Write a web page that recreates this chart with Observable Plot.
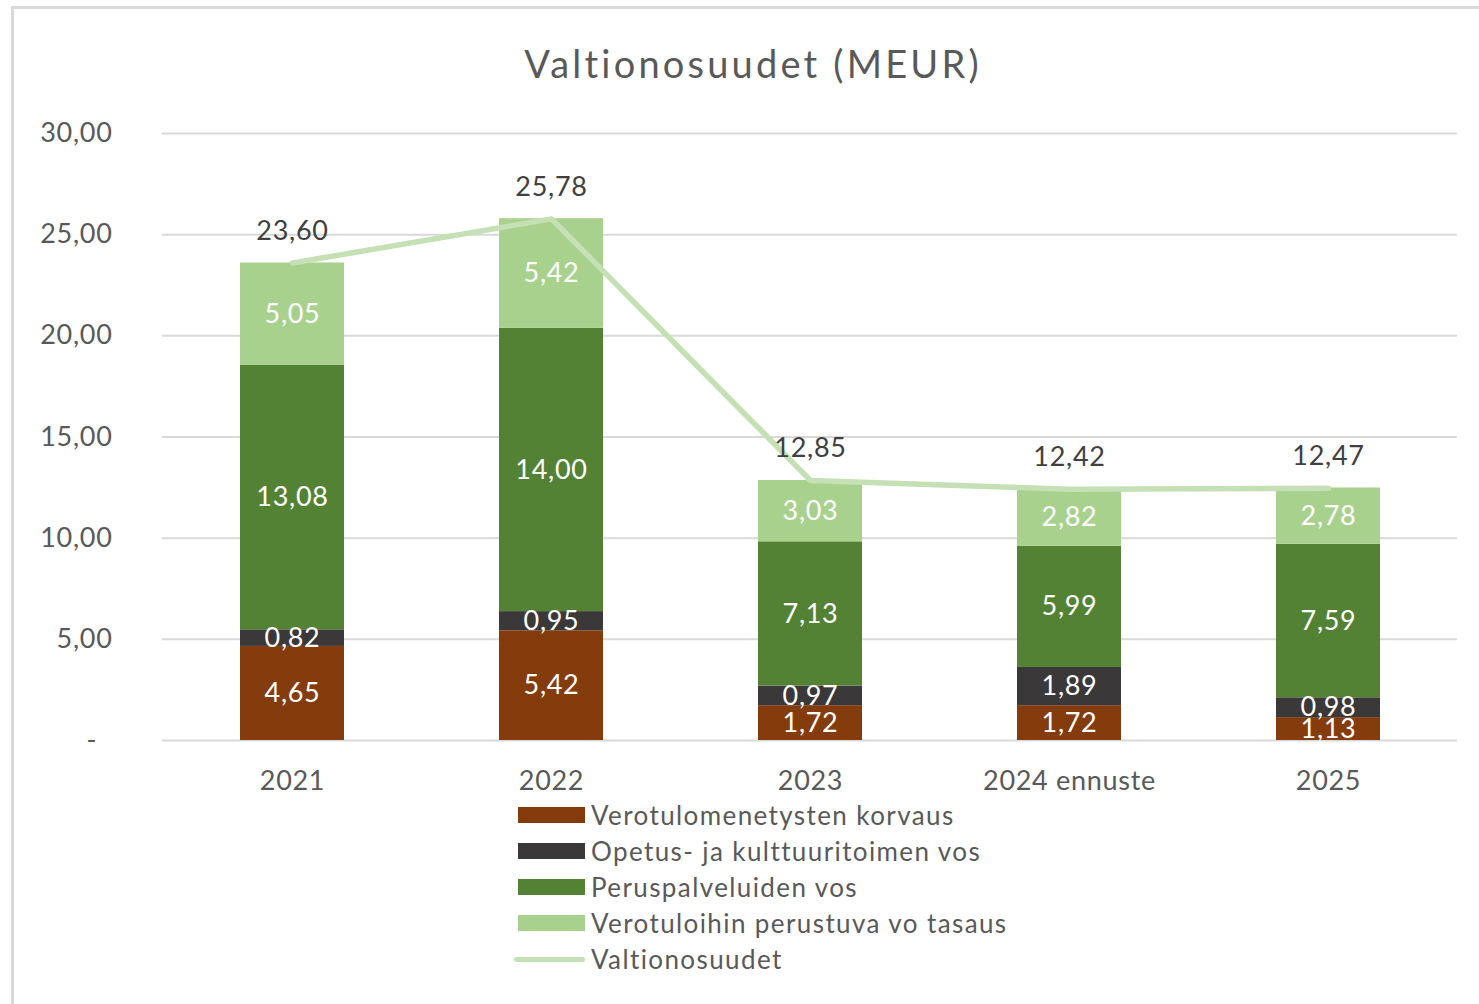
<!DOCTYPE html>
<html>
<head>
<meta charset="utf-8">
<script src="https://cdn.jsdelivr.net/npm/d3@7"></script>
<script src="https://cdn.jsdelivr.net/npm/@observablehq/plot@0.6"></script>
<style>
  html, body { margin: 0; padding: 0; background: #fff; }
  #wrap { position: relative; width: 1479px; height: 1004px; overflow: hidden; font-family: Lato, "Open Sans", sans-serif; }
  #frame { position: absolute; left: 11px; top: 6px; width: 1600px; height: 1200px; border: 3px solid #d9d9d9; box-sizing: border-box; }
  #title { position: absolute; left: 0; width: 1506px; top: 36px; text-align: center; font-size: 38px; letter-spacing: 3.2px; color: #595959; line-height: 54px; }
  #chart { position: absolute; left: 0; top: 100px; }
  #legend { position: absolute; left: 518px; top: 797px; }
  .row { display: flex; align-items: center; height: 36px; font-size: 26px; letter-spacing: 1.4px; color: #595959; }
  .sw { width: 67px; height: 16px; margin-right: 6px; }
  .ln { width: 71px; height: 5px; border-radius: 3px; margin-left: -4px; margin-right: 6px; }
</style>
</head>
<body>
<div id="wrap">
  <div id="frame"></div>
  <div id="title">Valtionosuudet (MEUR)</div>
  <div id="chart"></div>
  <div id="legend"></div>
</div>
<script>
const categories = ["2021", "2022", "2023", "2024 ennuste", "2025"];
const seriesNames = ["Verotulomenetysten korvaus", "Opetus- ja kulttuuritoimen vos", "Peruspalveluiden vos", "Verotuloihin perustuva vo tasaus"];
const verotulomenetystenKorvaus = [4.65, 5.42, 1.72, 1.72, 1.13];
const opetusJaKulttuuri = [0.82, 0.95, 0.97, 1.89, 0.98];
const peruspalveluidenVos = [13.08, 14.00, 7.13, 5.99, 7.59];
const verotuloihinTasaus = [5.05, 5.42, 3.03, 2.82, 2.78];
const lineName = "Valtionosuudet";
const valtionosuudet = [23.60, 25.78, 12.85, 12.42, 12.47];
const yTicks = [0, 5, 10, 15, 20, 25, 30];

const colors = ["#843c0c", "#3a3838", "#548235", "#a9d18e"];
const lineColor = "#c5e0b4";

const seriesValues = [verotulomenetystenKorvaus, opetusJaKulttuuri, peruspalveluidenVos, verotuloihinTasaus];
const rows = [];
categories.forEach((c, i) => {
  seriesNames.forEach((s, j) => rows.push({cat: c, series: s, value: seriesValues[j][i]}));
});
const lineRows = categories.map((c, i) => ({cat: c, value: valtionosuudet[i]}));

const fmt = v => v.toFixed(2).replace(".", ",");

const plot = Plot.plot({
  width: 1479,
  height: 700,
  marginLeft: 162,
  marginRight: 22,
  marginTop: 33,
  marginBottom: 60,
  style: {fontFamily: "Lato, 'Open Sans', sans-serif", background: "transparent", letterSpacing: "0.7px"},
  x: {domain: categories, paddingInner: 0.6, paddingOuter: 0.3, label: null},
  y: {domain: [0, 30], label: null},
  color: {domain: seriesNames, range: colors},
  marks: [
    Plot.ruleY(yTicks, {stroke: "#d9d9d9", strokeWidth: 2}),
    Plot.axisY(yTicks, {tickSize: 0, tickPadding: 50, fontSize: 27, color: "#595959", tickFormat: d => d === 0 ? "-\u00a0\u00a0" : fmt(d), label: null}),
    Plot.axisX({tickSize: 0, tickPadding: 30, fontSize: 27, color: "#595959", label: null}),
    Plot.barY(rows, {x: "cat", y: "value", fill: "series", order: seriesNames}),
    Plot.text(rows, Plot.stackY({x: "cat", y: "value", z: "series", order: seriesNames, text: d => fmt(d.value), fill: "white", fontSize: 27})),
    Plot.line(lineRows, {x: "cat", y: "value", stroke: lineColor, strokeWidth: 5.5, strokeLinecap: "round", strokeLinejoin: "round"}),
    Plot.text(lineRows, {x: "cat", y: "value", text: d => fmt(d.value), dy: -32, fill: "#404040", fontSize: 27})
  ]
});
document.getElementById("chart").appendChild(plot);

const legend = document.getElementById("legend");
seriesNames.forEach((s, j) => {
  const r = document.createElement("div");
  r.className = "row";
  r.innerHTML = `<div class="sw" style="background:${colors[j]}"></div><span>${s}</span>`;
  legend.appendChild(r);
});
const lr = document.createElement("div");
lr.className = "row";
lr.innerHTML = `<div class="ln" style="background:${lineColor}"></div><span>${lineName}</span>`;
legend.appendChild(lr);
</script>
</body>
</html>
